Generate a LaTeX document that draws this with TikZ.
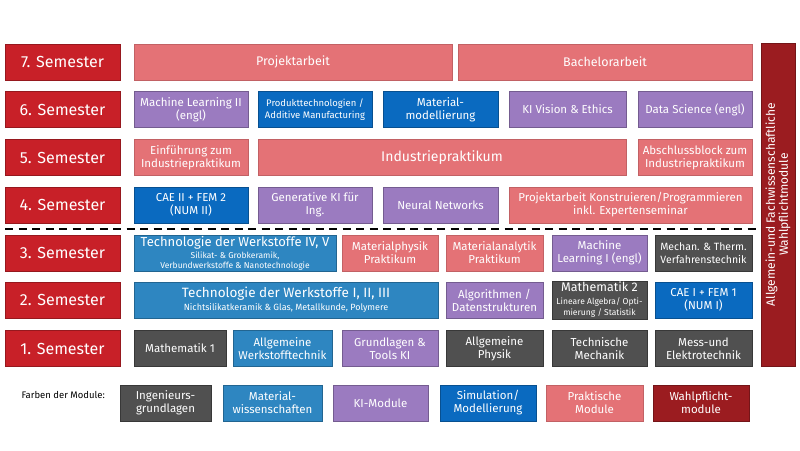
\documentclass[tikz,border=0pt]{standalone}
\usepackage{fontspec}
\setmainfont{Fira Sans}
\newcommand{\subsize}{\fontsize{8.5}{9}\selectfont}
\begin{document}
\begin{tikzpicture}[x=1pt,y=-1pt, line width=0.5pt,
    module/.style={text=white, align=center, minimum height=36, inner sep=1pt,
        font=\fontsize{11.5}{13}\selectfont},
    semlabel/.style={module, fill=semred, draw=semred!75!black, minimum width=115,
        font=\fontsize{16}{18}\selectfont},
    ingbox/.style={module, fill=inggray, draw=inggray!70!black},
    matbox/.style={module, fill=matblue, draw=matblue!75!black},
    kibox/.style={module, fill=kipurple, draw=kipurple!75!black},
    simbox/.style={module, fill=simblue, draw=simblue!75!black},
    praxbox/.style={module, fill=praxpink, draw=praxpink!85!black},
    wahlbox/.style={module, fill=wahlred, draw=wahlred!75!black}]
        \definecolor{semred}{RGB}{200, 32, 40}
        \definecolor{inggray}{RGB}{80, 80, 80}
        \definecolor{matblue}{RGB}{46, 134, 193}
        \definecolor{kipurple}{RGB}{155, 123, 192}
        \definecolor{simblue}{RGB}{10, 106, 192}
        \definecolor{praxpink}{RGB}{228, 114, 118}
        \definecolor{wahlred}{RGB}{155, 28, 32}

        \useasboundingbox (0,0) rectangle (800,450);

        % Semester labels
        \node[semlabel] (sem7) at (62.5,62) {7. Semester};
        \node[semlabel] (sem6) at (62.5,109.5) {6. Semester};
        \node[semlabel] (sem5) at (62.5,157.5) {5. Semester};
        \node[semlabel] (sem4) at (62.5,205) {4. Semester};
        \node[semlabel] (sem3) at (62.5,253) {3. Semester};
        \node[semlabel] (sem2) at (62.5,300) {2. Semester};
        \node[semlabel] (sem1) at (62.5,348.5) {1. Semester};

        % 7. Semester
        \node[praxbox, minimum width=318, font=\fontsize{12.5}{14}\selectfont] (projekt) at (293,62) {Projektarbeit};
        \node[praxbox, minimum width=294, font=\fontsize{12.5}{14}\selectfont] (bachelor) at (605,62) {Bachelorarbeit};

        % 6. Semester
        \node[kibox, minimum width=114] (mltwo) at (191,109.5) {Machine Learning II\\(engl)};
        \node[simbox, minimum width=114, font=\fontsize{9.5}{12}\selectfont] (produkt) at (315,109.5) {Produkttechnologien /\\Additive Manufacturing};
        \node[simbox, minimum width=115] (matmod) at (440.5,109.5) {Material-\\modellierung};
        \node[kibox, minimum width=117] (kivision) at (567.5,109.5) {KI Vision \& Ethics};
        \node[kibox, minimum width=114] (datasci) at (695,109.5) {Data Science (engl)};

        % 5. Semester
        \node[praxbox, minimum width=114] (einfuehrung) at (191,157.5) {Einführung zum\\Industriepraktikum};
        \node[praxbox, minimum width=368, font=\fontsize{14}{16}\selectfont] (industrie) at (442,157.5) {Industriepraktikum};
        \node[praxbox, minimum width=114] (abschluss) at (695,157.5) {Abschlussblock zum\\Industriepraktikum};

        % 4. Semester
        \node[simbox, minimum width=114] (caetwo) at (191,205) {CAE II + FEM 2\\(NUM II)};
        \node[kibox, minimum width=114] (genki) at (315,205) {Generative KI für\\Ing.};
        \node[kibox, minimum width=115] (neural) at (440.5,205) {Neural Networks};
        \node[praxbox, minimum width=243] (konstr) at (630.5,205) {Projektarbeit Konstruieren/Programmieren\\inkl. Expertenseminar};

        % Dashed separator
        \coordinate (dashL) at (5,229);
        \coordinate (dashR) at (798,229);
        \draw[line width=2pt, dash pattern=on 8pt off 5.5pt] (dashL) -- (dashR);

        % 3. Semester
        \node[matbox, minimum width=202] (techfive) at (235,253) {{\fontsize{13}{14}\selectfont Technologie der Werkstoffe IV, V}\\[-1pt]
            {\subsize Silikat- \& Grobkeramik,}\\[-3pt]{\subsize Verbundwerkstoffe \& Nanotechnologie}};
        \node[praxbox, minimum width=96] (matphys) at (390,253) {Materialphysik\\Praktikum};
        \node[praxbox, minimum width=97] (matana) at (494.5,253) {Materialanalytik\\Praktikum};
        \node[kibox, minimum width=95] (mlone) at (599.5,253) {Machine\\Learning I (engl)};
        \node[ingbox, minimum width=97, font=\fontsize{10.5}{13}\selectfont] (mechan) at (703.5,253) {Mechan. \& Therm.\\Verfahrenstechnik};

        % 2. Semester
        \node[matbox, minimum width=304] (techthree) at (286,300) {{\fontsize{13.5}{15}\selectfont Technologie der Werkstoffe I, II, III}\\
            {\fontsize{9}{10}\selectfont Nichtsilikatkeramik \& Glas, Metallkunde, Polymere}};
        \node[kibox, minimum width=97] (algo) at (494.5,300) {Algorithmen /\\Datenstrukturen};
        \node[ingbox, minimum width=95] (mathetwo) at (599.5,300) {{\fontsize{12.5}{13}\selectfont Mathematik 2}\\
            {\subsize Lineare Algebra/ Opti-}\\[-2pt]{\subsize mierung / Statistik}};
        \node[simbox, minimum width=97] (caeone) at (703.5,300) {CAE I + FEM 1\\(NUM I)};

        % 1. Semester
        \node[ingbox, minimum width=92] (matheone) at (180,348.5) {Mathematik 1};
        \node[matbox, minimum width=99] (werkstoff) at (282.5,348.5) {Allgemeine\\Werkstofftechnik};
        \node[kibox, minimum width=96] (grundki) at (390,348.5) {Grundlagen \&\\Tools KI};
        \node[ingbox, minimum width=97] (physik) at (494.5,348.5) {Allgemeine\\Physik};
        \node[ingbox, minimum width=95] (mechanik) at (599.5,348.5) {Technische\\Mechanik};
        \node[ingbox, minimum width=97] (mess) at (703.5,348.5) {Mess-und\\Elektrotechnik};

        % Wahlpflicht bar
        \node[wahlbox, minimum width=323, minimum height=34, rotate=90, font=\fontsize{12}{13}\selectfont] (wahlbar) at (778,204.5)
            {Allgemein-und Fachwissenschaftliche\\Wahlpflichtmodule};

        % Legend
        \node[anchor=west, font=\fontsize{9.5}{10}\selectfont] (legende) at (18,395) {Farben der Module:};
        \node[ingbox, minimum width=91] (legIng) at (165.5,403) {Ingenieurs-\\grundlagen};
        \node[matbox, minimum width=99] (legMat) at (272.5,403) {Material-\\wissenschaften};
        \node[kibox, minimum width=95] (legKI) at (380.5,403) {KI-Module};
        \node[simbox, minimum width=96] (legSim) at (488,403) {Simulation/\\Modellierung};
        \node[praxbox, minimum width=97] (legPrax) at (594.5,403) {Praktische\\Module};
        \node[wahlbox, minimum width=96] (legWahl) at (701,403) {Wahlpflicht-\\module};
    \end{tikzpicture}
\end{document}
